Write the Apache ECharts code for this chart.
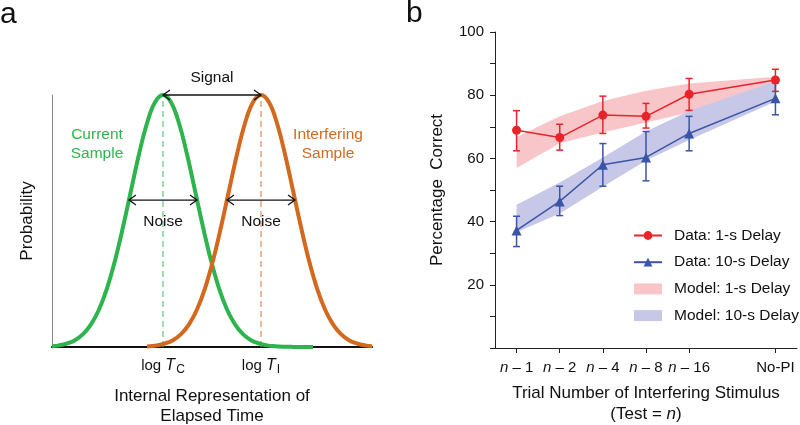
<!DOCTYPE html>
<html><head><meta charset="utf-8">
<script src="https://cdn.jsdelivr.net/npm/echarts@6/dist/echarts.min.js"></script>
<style>html,body{margin:0;padding:0;background:#fff}#c{width:800px;height:425px}</style>
</head><body><div id="c"></div>
<script>
const FONT = "'Liberation Sans', Arial, Helvetica, sans-serif";

// ---------- Panel a: schematic distributions (x in arbitrary units 0..320, y 0..100) ----------
const greenX = [0,7,15,23,31,39,47,55,63,71,79,87,95,103,111,119,127,135,143,151,159,167,175,183,191,199,207,215,223,231,239,247,255,261];
const greenY = [0.3,0.65,1.4,2.7,5.1,9.0,14.9,23.3,34.3,47.6,62.1,76.5,88.8,97.1,100,97.1,88.8,76.5,62.1,47.6,34.3,23.3,14.9,9.0,5.1,2.7,1.4,0.65,0.3,0.1,0.05,0,0,0];
const orangeX = [95,105,113,121,129,137,145,153,161,169,177,185,193,201,209,217,225,233,241,249,257,265,273,281,289,297,305,313,320];
const orangeY = [0.2,0.65,1.4,2.7,5.1,9.0,14.9,23.3,34.3,47.6,62.1,76.5,88.8,97.1,100,97.1,88.8,76.5,62.1,47.6,34.3,23.3,14.9,9.0,5.1,2.7,1.4,0.65,0.3];
const peakPos = [111, 209];          // log T_C, log T_I
const peakSubs = ['C', 'I'];
const noiseLevel = 58.3;
const noiseSpans = [[77,145],[175,243]];

// ---------- Panel b: data ----------
const categories = ['n – 1','n – 2','n – 4','n – 8','n – 16','No-PI'];
const catPos = [0,1,2,3,4,6];
const data1s    = [68.9,66.6,73.7,73.3,80.3,84.8];
const data1sHi  = [75.1,70.8,79.7,77.4,85.3,88.2];
const data1sLo  = [62.4,62.6,67.9,69.6,75.2,81.2];
const data10s   = [37.2,46.4,58.0,60.3,67.9,79.0];
const data10sHi = [41.7,51.2,64.7,68.5,73.3,83.9];
const data10sLo = [32.1,41.9,51.2,52.9,62.4,73.8];
const model1sHi  = [66.8,73.3,78.2,81.4,83.7,85.8];
const model1sLo  = [57.0,64.8,68.2,71.4,74.5,83.5];
const model10sHi = [45.3,52.4,60.3,68.5,75.0,84.5];
const model10sLo = [36.6,42.6,51.0,59.3,65.8,78.0];

const GREEN = '#2db44d', ORANGE = '#d2691f';
const RED = '#e8232a', BLUE = '#3a54a6';
const RED_BAND = '#f8c6c9', BLUE_BAND = '#c7c8e7';

function pairs(xs, ys){ return xs.map((x,i)=>[x, ys[i]]); }

function arrowRender(params, api){
  const a = api.coord([api.value(0), api.value(2)]);
  const b = api.coord([api.value(1), api.value(2)]);
  const h = 7, w = 5, st = {stroke:'#111', fill:null, lineWidth:1.3};
  return {type:'group', children:[
    {type:'line', shape:{x1:a[0],y1:a[1],x2:b[0],y2:b[1]}, style:st},
    {type:'polyline', shape:{points:[[a[0]+h,a[1]-w],[a[0],a[1]],[a[0]+h,a[1]+w]]}, style:st},
    {type:'polyline', shape:{points:[[b[0]-h,b[1]-w],[b[0],b[1]],[b[0]-h,b[1]+w]]}, style:st}
  ]};
}

const annTexts = [
  {x:160, y:106.7, t:'Signal', c:'#111'},
  {x:111, y:49.6, t:'Noise', c:'#111'},
  {x:209, y:49.6, t:'Noise', c:'#111'},
  {x:45,  y:80.5, t:'Current\nSample', c:GREEN},
  {x:276, y:80.5, t:'Interfering\nSample', c:ORANGE}
];

function bandSeries(name, hi, lo, color){
  return {
    type:'custom', name:name, xAxisIndex:1, yAxisIndex:1,
    itemStyle:{color:color},
    data:[0],
    renderItem:function(params, api){
      const pts = [];
      catPos.forEach((x,i)=>pts.push(api.coord([x, hi[i]])));
      for(let i=catPos.length-1;i>=0;i--) pts.push(api.coord([catPos[i], lo[i]]));
      return {type:'polygon', shape:{points:pts}, style:{fill:color, stroke:null}};
    },
    z:1
  };
}
function errSeries(hi, lo, color){
  return {
    type:'custom', xAxisIndex:1, yAxisIndex:1,
    data: catPos.map((x,i)=>[x, lo[i], hi[i]]),
    renderItem:function(params, api){
      const p1 = api.coord([api.value(0), api.value(1)]);
      const p2 = api.coord([api.value(0), api.value(2)]);
      const c = 3.5, st = {stroke:color, lineWidth:1.5};
      return {type:'group', children:[
        {type:'line', shape:{x1:p1[0],y1:p1[1],x2:p2[0],y2:p2[1]}, style:st},
        {type:'line', shape:{x1:p1[0]-c,y1:p1[1],x2:p1[0]+c,y2:p1[1]}, style:st},
        {type:'line', shape:{x1:p2[0]-c,y1:p2[1],x2:p2[0]+c,y2:p2[1]}, style:st}
      ]};
    },
    z:3
  };
}

const option = {
  animation:false,
  textStyle:{fontFamily:FONT},
  grid:[
    {left:52, top:95, width:320, height:252, outerBoundsMode:'none', containLabel:false},
    {left:495, top:32, width:302, height:316, outerBoundsMode:'none', containLabel:false}
  ],
  xAxis:[
    {type:'value', gridIndex:0, min:0, max:320,
     axisLine:{onZero:false, lineStyle:{color:'#111', width:2}}, axisTick:{show:false}, splitLine:{show:false},
     axisLabel:{customValues:peakPos, margin:8, color:'#111', fontSize:15, fontFamily:FONT,
       formatter:function(v){ const i = peakPos.indexOf(v); return i<0 ? '' : 'log {t|T}{s|' + peakSubs[i] + '}'; },
       rich:{t:{fontStyle:'italic', fontSize:16, fontFamily:FONT, color:'#111'},
             s:{fontSize:12, fontFamily:FONT, color:'#111', padding:[9,0,0,1]}}},
     name:'Internal Representation of\nElapsed Time', nameLocation:'middle', nameGap:39,
     nameTextStyle:{fontSize:17, color:'#111', fontFamily:FONT, lineHeight:20}},
    {type:'value', gridIndex:1, min:-0.5, max:6.5,
     axisLine:{onZero:false, lineStyle:{color:'#222', width:1}}, splitLine:{show:false},
     axisTick:{customValues:catPos, length:5, lineStyle:{color:'#222'}},
     axisLabel:{customValues:catPos, margin:12, color:'#111', fontSize:15, fontFamily:FONT,
       formatter:function(v){ const i = catPos.indexOf(v); if(i<0) return ''; const s = categories[i];
         return s.charAt(0)==='n' ? '{i|n}' + s.slice(1) : s; },
       rich:{i:{fontStyle:'italic', fontSize:15, fontFamily:FONT, color:'#111'}}},
     name:'Trial Number of Interfering Stimulus\n(Test = {i|n})', nameLocation:'middle', nameGap:35,
     nameTextStyle:{fontSize:17, color:'#111', fontFamily:FONT, lineHeight:21,
       rich:{i:{fontStyle:'italic', fontSize:17, fontFamily:FONT, color:'#111'}}}}
  ],
  yAxis:[
    {type:'value', gridIndex:0, min:0, max:100,
     axisLine:{show:true, onZero:false, lineStyle:{color:'#888', width:1}}, axisTick:{show:false},
     axisLabel:{show:false}, splitLine:{show:false},
     name:'Probability', nameLocation:'middle', nameGap:16,
     nameTextStyle:{fontSize:17, color:'#111', fontFamily:FONT}},
    {type:'value', gridIndex:1, min:0, max:100, interval:10,
     axisLine:{show:true, onZero:false, lineStyle:{color:'#222', width:1}},
     axisTick:{show:true, length:5, lineStyle:{color:'#222'}}, splitLine:{show:false},
     axisLabel:{margin:11, color:'#111', fontSize:15, fontFamily:FONT,
       formatter:function(v){ return (v>0 && v%20===0) ? String(v) : ''; }},
     name:'Percentage  Correct', nameLocation:'middle', nameGap:49,
     nameTextStyle:{fontSize:17, color:'#111', fontFamily:FONT}}
  ],
  legend:{
    orient:'vertical', left:628, top:222.5, itemWidth:28, itemHeight:11, itemGap:10.7,
    textStyle:{fontSize:15.5, color:'#111', fontFamily:FONT, padding:[0,0,0,7], lineHeight:14},
    data:[
      {name:'Data: 1-s Delay'},
      {name:'Data: 10-s Delay'},
      {name:'Model: 1-s Delay', icon:'rect'},
      {name:'Model: 10-s Delay', icon:'rect'}
    ]
  },
  graphic:[
    {type:'text', left:0, top:0, style:{text:'a', font:'30px ' + FONT, fill:'#111'}, z:10},
    {type:'text', left:406, top:-1, style:{text:'b', font:'30px ' + FONT, fill:'#111'}, z:10}
  ],
  series:[
    // Panel a
    {type:'line', xAxisIndex:0, yAxisIndex:0, data:pairs(greenX, greenY), smooth:0.4, showSymbol:false,
     lineStyle:{color:GREEN, width:4}, z:3},
    {type:'line', xAxisIndex:0, yAxisIndex:0, data:pairs(orangeX, orangeY), smooth:0.4, showSymbol:false,
     lineStyle:{color:ORANGE, width:4}, z:3},
    {type:'line', xAxisIndex:0, yAxisIndex:0, data:[[peakPos[0],0],[peakPos[0],100]], showSymbol:false,
     lineStyle:{color:'#5cc57a', width:1.2, type:[6,4]}, z:2},
    {type:'line', xAxisIndex:0, yAxisIndex:0, data:[[peakPos[1],0],[peakPos[1],100]], showSymbol:false,
     lineStyle:{color:'#de8a55', width:1.2, type:[6,4]}, z:2},
    {type:'custom', xAxisIndex:0, yAxisIndex:0, renderItem:arrowRender,
     data:[[peakPos[0], peakPos[1], 100], [noiseSpans[0][0], noiseSpans[0][1], noiseLevel], [noiseSpans[1][0], noiseSpans[1][1], noiseLevel]], z:4},
    {type:'custom', xAxisIndex:0, yAxisIndex:0, data:annTexts.map(a=>[a.x,a.y]),
     renderItem:function(params, api){
       const a = annTexts[params.dataIndex]; const p = api.coord([a.x, a.y]);
       return {type:'text', x:p[0], y:p[1], style:{text:a.t, fill:a.c, font:'15.5px ' + FONT,
         align:'center', verticalAlign:'middle', lineHeight:19}};
     }, z:5},
    // Panel b
    bandSeries('Model: 1-s Delay', model1sHi, model1sLo, RED_BAND),
    bandSeries('Model: 10-s Delay', model10sHi, model10sLo, BLUE_BAND),
    errSeries(data1sHi, data1sLo, RED),
    errSeries(data10sHi, data10sLo, BLUE),
    {type:'line', name:'Data: 1-s Delay', xAxisIndex:1, yAxisIndex:1, data:pairs(catPos, data1s),
     symbol:'circle', symbolSize:9, lineStyle:{color:RED, width:1.5}, itemStyle:{color:RED}, z:4},
    {type:'line', name:'Data: 10-s Delay', xAxisIndex:1, yAxisIndex:1, data:pairs(catPos, data10s),
     symbol:'triangle', symbolSize:10, lineStyle:{color:BLUE, width:1.5}, itemStyle:{color:BLUE}, z:4}
  ]
};
const chart = echarts.init(document.getElementById('c'), null, {renderer:'canvas'});
chart.setOption(option);
</script>
</body></html>
